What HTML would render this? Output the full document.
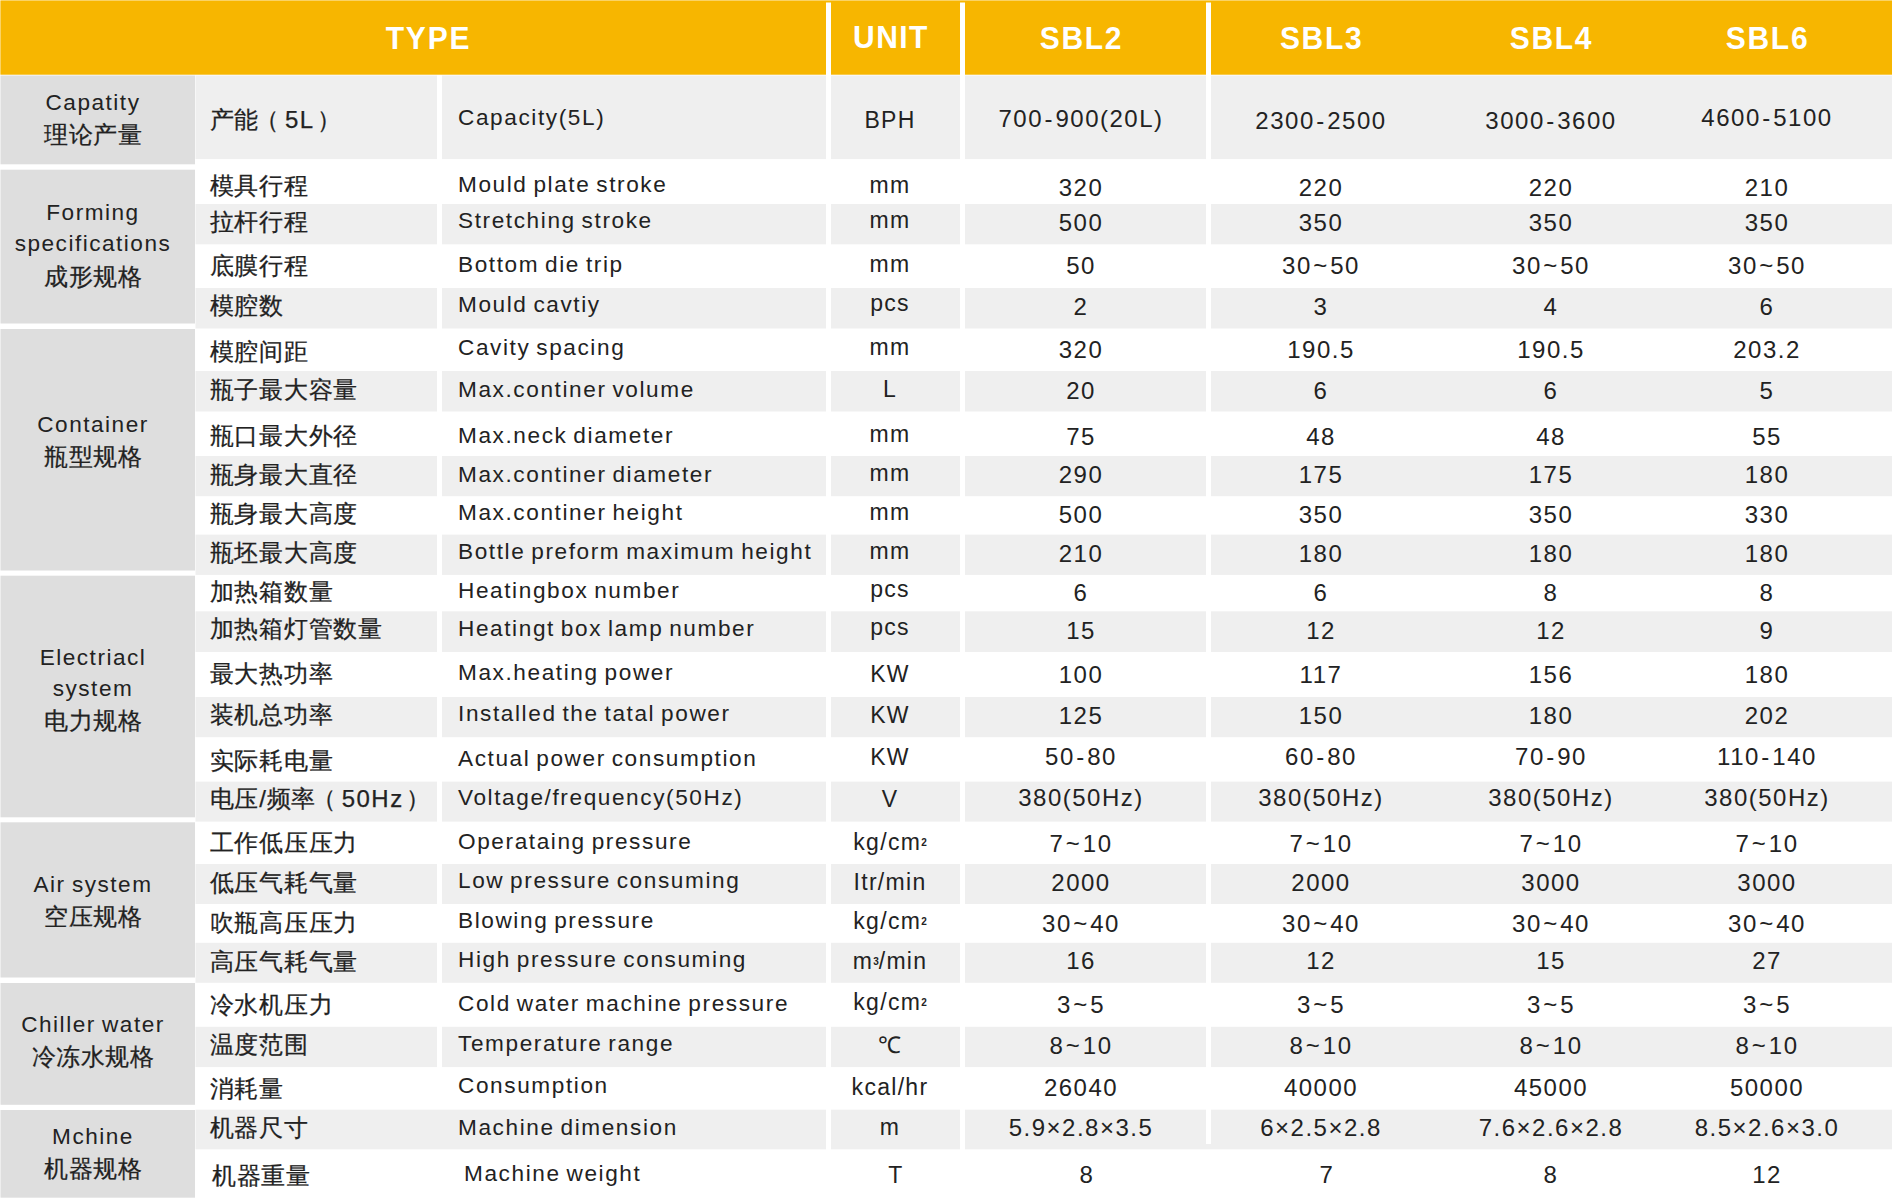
<!DOCTYPE html>
<html lang="zh"><head><meta charset="utf-8"><title>SBL specification table</title>
<style>
html,body{margin:0;padding:0;background:#fff;}
body{width:1892px;height:1202px;position:relative;overflow:hidden;font-family:"Liberation Sans",sans-serif;color:#222;}
.b{position:absolute;}
.t{position:absolute;white-space:nowrap;line-height:30px;height:30px;}
.en{font-size:22.6px;letter-spacing:1.6px;word-spacing:-2px;}
.cn{font-size:24px;letter-spacing:0.7px;-webkit-text-stroke:0.25px;}
.un{font-size:23px;letter-spacing:1.3px;text-align:center;width:130px;}
.va{font-size:24px;letter-spacing:1.5px;text-align:center;width:240px;}
.ce{font-size:22.6px;letter-spacing:1.5px;word-spacing:-1.5px;text-align:center;width:196px;left:-5px;}
.cc{font-size:24px;letter-spacing:0.5px;-webkit-text-stroke:0.25px;text-align:center;width:196px;left:-5px;}
.hd{position:absolute;color:#fff;font-weight:bold;font-size:30px;letter-spacing:1.45px;line-height:40px;height:40px;transform:scaleY(1.06);transform-origin:50% 19.5px;text-align:center;white-space:nowrap;}
.s{padding:0 1.5px;}
.pl{margin:0 5px 0 -4px;}
.pr{margin-left:2.5px;}
.lt{letter-spacing:1.5px;}
sup{font-size:10px;line-height:0;vertical-align:4.5px;letter-spacing:0;font-weight:bold;}
</style></head><body>

<svg class="b" style="left:0;top:0" width="1892" height="1202" viewBox="0 0 1892 1202">
<rect x="0.4" y="0.4" width="1892.6" height="74.3" fill="#f7b600"/>
<rect x="826" y="2.5" width="5" height="73.5" fill="#fff"/>
<rect x="960" y="2.5" width="5" height="73.5" fill="#fff"/>
<rect x="1206" y="2.5" width="5" height="73.5" fill="#fff"/>
<rect x="0.5" y="75.5" width="194.5" height="88.8" fill="#dedede"/>
<rect x="0.5" y="169.7" width="194.5" height="153.8" fill="#dedede"/>
<rect x="0.5" y="329" width="194.5" height="241.5" fill="#dedede"/>
<rect x="0.5" y="575.7" width="194.5" height="241.6" fill="#dedede"/>
<rect x="0.5" y="822.3" width="194.5" height="155.2" fill="#dedede"/>
<rect x="0.5" y="983" width="194.5" height="121.8" fill="#dedede"/>
<rect x="0.5" y="1110" width="194.5" height="87.7" fill="#dedede"/>
<rect x="195.5" y="75.5" width="241.5" height="83.6" fill="#efefef"/>
<rect x="442" y="75.5" width="384" height="83.6" fill="#efefef"/>
<rect x="831" y="75.5" width="129" height="83.6" fill="#efefef"/>
<rect x="965" y="75.5" width="241" height="83.6" fill="#efefef"/>
<rect x="1211" y="75.5" width="681" height="83.6" fill="#efefef"/>
<rect x="195.5" y="204" width="241.5" height="40.3" fill="#efefef"/>
<rect x="442" y="204" width="384" height="40.3" fill="#efefef"/>
<rect x="831" y="204" width="129" height="40.3" fill="#efefef"/>
<rect x="965" y="204" width="241" height="40.3" fill="#efefef"/>
<rect x="1211" y="204" width="681" height="40.3" fill="#efefef"/>
<rect x="195.5" y="288" width="241.5" height="40.5" fill="#efefef"/>
<rect x="442" y="288" width="384" height="40.5" fill="#efefef"/>
<rect x="831" y="288" width="129" height="40.5" fill="#efefef"/>
<rect x="965" y="288" width="241" height="40.5" fill="#efefef"/>
<rect x="1211" y="288" width="681" height="40.5" fill="#efefef"/>
<rect x="195.5" y="371" width="241.5" height="40.5" fill="#efefef"/>
<rect x="442" y="371" width="384" height="40.5" fill="#efefef"/>
<rect x="831" y="371" width="129" height="40.5" fill="#efefef"/>
<rect x="965" y="371" width="241" height="40.5" fill="#efefef"/>
<rect x="1211" y="371" width="681" height="40.5" fill="#efefef"/>
<rect x="195.5" y="456" width="241.5" height="40.2" fill="#efefef"/>
<rect x="442" y="456" width="384" height="40.2" fill="#efefef"/>
<rect x="831" y="456" width="129" height="40.2" fill="#efefef"/>
<rect x="965" y="456" width="241" height="40.2" fill="#efefef"/>
<rect x="1211" y="456" width="681" height="40.2" fill="#efefef"/>
<rect x="195.5" y="534.6" width="241.5" height="40.3" fill="#efefef"/>
<rect x="442" y="534.6" width="384" height="40.3" fill="#efefef"/>
<rect x="831" y="534.6" width="129" height="40.3" fill="#efefef"/>
<rect x="965" y="534.6" width="241" height="40.3" fill="#efefef"/>
<rect x="1211" y="534.6" width="681" height="40.3" fill="#efefef"/>
<rect x="195.5" y="611.3" width="241.5" height="40.7" fill="#efefef"/>
<rect x="442" y="611.3" width="384" height="40.7" fill="#efefef"/>
<rect x="831" y="611.3" width="129" height="40.7" fill="#efefef"/>
<rect x="965" y="611.3" width="241" height="40.7" fill="#efefef"/>
<rect x="1211" y="611.3" width="681" height="40.7" fill="#efefef"/>
<rect x="195.5" y="697" width="241.5" height="40.2" fill="#efefef"/>
<rect x="442" y="697" width="384" height="40.2" fill="#efefef"/>
<rect x="831" y="697" width="129" height="40.2" fill="#efefef"/>
<rect x="965" y="697" width="241" height="40.2" fill="#efefef"/>
<rect x="1211" y="697" width="681" height="40.2" fill="#efefef"/>
<rect x="195.5" y="781.6" width="241.5" height="40" fill="#efefef"/>
<rect x="442" y="781.6" width="384" height="40" fill="#efefef"/>
<rect x="831" y="781.6" width="129" height="40" fill="#efefef"/>
<rect x="965" y="781.6" width="241" height="40" fill="#efefef"/>
<rect x="1211" y="781.6" width="681" height="40" fill="#efefef"/>
<rect x="195.5" y="864" width="241.5" height="40" fill="#efefef"/>
<rect x="442" y="864" width="384" height="40" fill="#efefef"/>
<rect x="831" y="864" width="129" height="40" fill="#efefef"/>
<rect x="965" y="864" width="241" height="40" fill="#efefef"/>
<rect x="1211" y="864" width="681" height="40" fill="#efefef"/>
<rect x="195.5" y="942.8" width="241.5" height="40" fill="#efefef"/>
<rect x="442" y="942.8" width="384" height="40" fill="#efefef"/>
<rect x="831" y="942.8" width="129" height="40" fill="#efefef"/>
<rect x="965" y="942.8" width="241" height="40" fill="#efefef"/>
<rect x="1211" y="942.8" width="681" height="40" fill="#efefef"/>
<rect x="195.5" y="1026.8" width="241.5" height="40.3" fill="#efefef"/>
<rect x="442" y="1026.8" width="384" height="40.3" fill="#efefef"/>
<rect x="831" y="1026.8" width="129" height="40.3" fill="#efefef"/>
<rect x="965" y="1026.8" width="241" height="40.3" fill="#efefef"/>
<rect x="1211" y="1026.8" width="681" height="40.3" fill="#efefef"/>
<rect x="195.5" y="1109.7" width="630.5" height="39.6" fill="#efefef"/>
<rect x="831" y="1109.7" width="129" height="39.6" fill="#efefef"/>
<rect x="965" y="1109.7" width="241" height="39.6" fill="#efefef"/>
<rect x="1211" y="1109.7" width="681" height="39.6" fill="#efefef"/>
<rect x="1206" y="1144" width="5" height="5.3" fill="#efefef"/>
</svg>
<div class="hd" style="left:278.5px;top:17.8px;width:300px;letter-spacing:1.8px">TYPE</div>
<div class="hd" style="left:740.925px;top:17.4px;width:300px;letter-spacing:1.45px">UNIT</div>
<div class="hd" style="left:931.45px;top:18px;width:300px;letter-spacing:1.7px">SBL2</div>
<div class="hd" style="left:1171.65px;top:18px;width:300px;letter-spacing:1.7px">SBL3</div>
<div class="hd" style="left:1401.45px;top:18px;width:300px;letter-spacing:1.7px">SBL4</div>
<div class="hd" style="left:1617.55px;top:18px;width:300px;letter-spacing:1.7px">SBL6</div>
<div class="t ce" style="top:88.2px">Capatity</div>
<div class="t cc" style="top:120px">理论产量</div>
<div class="t ce" style="top:198.2px">Forming</div>
<div class="t ce" style="top:229.2px">specifications</div>
<div class="t cc" style="top:262px">成形规格</div>
<div class="t ce" style="top:410.2px">Container</div>
<div class="t cc" style="top:442px">瓶型规格</div>
<div class="t ce" style="top:643.2px">Electriacl</div>
<div class="t ce" style="top:674.2px">system</div>
<div class="t cc" style="top:706px">电力规格</div>
<div class="t ce" style="top:870.2px">Air system</div>
<div class="t cc" style="top:902px">空压规格</div>
<div class="t ce" style="top:1010.2px">Chiller water</div>
<div class="t cc" style="top:1042px">冷冻水规格</div>
<div class="t ce" style="top:1122.2px">Mchine</div>
<div class="t cc" style="top:1154px">机器规格</div>
<div class="t cn" style="left:209.8px;top:105px">产能<span class="pl">（</span><span class="lt">5L</span><span class="pr">）</span></div>
<div class="t en" style="left:458px;top:103px">Capacity(5L)</div>
<div class="t un" style="left:825px;top:105px">BPH</div>
<div class="t va" style="left:961px;top:104px">700<span class="s">-</span>900(20L)</div>
<div class="t va" style="left:1201px;top:105.5px">2300<span class="s">-</span>2500</div>
<div class="t va" style="left:1431px;top:105.5px">3000<span class="s">-</span>3600</div>
<div class="t va" style="left:1647px;top:103px">4600<span class="s">-</span>5100</div>
<div class="t cn" style="left:209.8px;top:171px">模具行程</div>
<div class="t en" style="left:458px;top:170px">Mould plate stroke</div>
<div class="t un" style="left:825px;top:170px">mm</div>
<div class="t va" style="left:961px;top:172.5px">320</div>
<div class="t va" style="left:1201px;top:172.5px">220</div>
<div class="t va" style="left:1431px;top:172.5px">220</div>
<div class="t va" style="left:1647px;top:172.5px">210</div>
<div class="t cn" style="left:209.8px;top:207px">拉杆行程</div>
<div class="t en" style="left:458px;top:206px">Stretching stroke</div>
<div class="t un" style="left:825px;top:205px">mm</div>
<div class="t va" style="left:961px;top:208px">500</div>
<div class="t va" style="left:1201px;top:208px">350</div>
<div class="t va" style="left:1431px;top:208px">350</div>
<div class="t va" style="left:1647px;top:208px">350</div>
<div class="t cn" style="left:209.8px;top:251px">底膜行程</div>
<div class="t en" style="left:458px;top:249.6px">Bottom die trip</div>
<div class="t un" style="left:825px;top:249px">mm</div>
<div class="t va" style="left:961px;top:251px">50</div>
<div class="t va" style="left:1201px;top:251px">30<span class="s">~</span>50</div>
<div class="t va" style="left:1431px;top:251px">30<span class="s">~</span>50</div>
<div class="t va" style="left:1647px;top:251px">30<span class="s">~</span>50</div>
<div class="t cn" style="left:209.8px;top:291px">模腔数</div>
<div class="t en" style="left:458px;top:289.6px">Mould cavtiy</div>
<div class="t un" style="left:825px;top:288px">pcs</div>
<div class="t va" style="left:961px;top:292px">2</div>
<div class="t va" style="left:1201px;top:292px">3</div>
<div class="t va" style="left:1431px;top:292px">4</div>
<div class="t va" style="left:1647px;top:292px">6</div>
<div class="t cn" style="left:209.8px;top:337px">模腔间距</div>
<div class="t en" style="left:458px;top:333px">Cavity spacing</div>
<div class="t un" style="left:825px;top:332px">mm</div>
<div class="t va" style="left:961px;top:335px">320</div>
<div class="t va" style="left:1201px;top:335px">190.5</div>
<div class="t va" style="left:1431px;top:335px">190.5</div>
<div class="t va" style="left:1647px;top:335px">203.2</div>
<div class="t cn" style="left:209.8px;top:375px">瓶子最大容量</div>
<div class="t en" style="left:458px;top:375px">Max.continer volume</div>
<div class="t un" style="left:825px;top:374px">L</div>
<div class="t va" style="left:961px;top:375.5px">20</div>
<div class="t va" style="left:1201px;top:375.5px">6</div>
<div class="t va" style="left:1431px;top:375.5px">6</div>
<div class="t va" style="left:1647px;top:375.5px">5</div>
<div class="t cn" style="left:209.8px;top:421px">瓶口最大外径</div>
<div class="t en" style="left:458px;top:421px">Max.neck diameter</div>
<div class="t un" style="left:825px;top:419px">mm</div>
<div class="t va" style="left:961px;top:422px">75</div>
<div class="t va" style="left:1201px;top:422px">48</div>
<div class="t va" style="left:1431px;top:422px">48</div>
<div class="t va" style="left:1647px;top:422px">55</div>
<div class="t cn" style="left:209.8px;top:460px">瓶身最大直径</div>
<div class="t en" style="left:458px;top:460px">Max.continer diameter</div>
<div class="t un" style="left:825px;top:458px">mm</div>
<div class="t va" style="left:961px;top:460px">290</div>
<div class="t va" style="left:1201px;top:460px">175</div>
<div class="t va" style="left:1431px;top:460px">175</div>
<div class="t va" style="left:1647px;top:460px">180</div>
<div class="t cn" style="left:209.8px;top:499px">瓶身最大高度</div>
<div class="t en" style="left:458px;top:498px">Max.continer height</div>
<div class="t un" style="left:825px;top:497px">mm</div>
<div class="t va" style="left:961px;top:499.7px">500</div>
<div class="t va" style="left:1201px;top:499.7px">350</div>
<div class="t va" style="left:1431px;top:499.7px">350</div>
<div class="t va" style="left:1647px;top:499.7px">330</div>
<div class="t cn" style="left:209.8px;top:538px">瓶坯最大高度</div>
<div class="t en" style="left:458px;top:537px">Bottle preform maximum height</div>
<div class="t un" style="left:825px;top:536px">mm</div>
<div class="t va" style="left:961px;top:539px">210</div>
<div class="t va" style="left:1201px;top:539px">180</div>
<div class="t va" style="left:1431px;top:539px">180</div>
<div class="t va" style="left:1647px;top:539px">180</div>
<div class="t cn" style="left:209.8px;top:577px">加热箱数量</div>
<div class="t en" style="left:458px;top:575.5px">Heatingbox number</div>
<div class="t un" style="left:825px;top:574px">pcs</div>
<div class="t va" style="left:961px;top:578px">6</div>
<div class="t va" style="left:1201px;top:578px">6</div>
<div class="t va" style="left:1431px;top:578px">8</div>
<div class="t va" style="left:1647px;top:578px">8</div>
<div class="t cn" style="left:209.8px;top:614px">加热箱灯管数量</div>
<div class="t en" style="left:458px;top:614px">Heatingt box lamp number</div>
<div class="t un" style="left:825px;top:612px">pcs</div>
<div class="t va" style="left:961px;top:615.7px">15</div>
<div class="t va" style="left:1201px;top:615.7px">12</div>
<div class="t va" style="left:1431px;top:615.7px">12</div>
<div class="t va" style="left:1647px;top:615.7px">9</div>
<div class="t cn" style="left:209.8px;top:659px">最大热功率</div>
<div class="t en" style="left:458px;top:658px">Max.heating power</div>
<div class="t un" style="left:825px;top:659px">KW</div>
<div class="t va" style="left:961px;top:660px">100</div>
<div class="t va" style="left:1201px;top:660px">117</div>
<div class="t va" style="left:1431px;top:660px">156</div>
<div class="t va" style="left:1647px;top:660px">180</div>
<div class="t cn" style="left:209.8px;top:700px">装机总功率</div>
<div class="t en" style="left:458px;top:698.8px">Installed the tatal power</div>
<div class="t un" style="left:825px;top:700px">KW</div>
<div class="t va" style="left:961px;top:700.7px">125</div>
<div class="t va" style="left:1201px;top:700.7px">150</div>
<div class="t va" style="left:1431px;top:700.7px">180</div>
<div class="t va" style="left:1647px;top:700.7px">202</div>
<div class="t cn" style="left:209.8px;top:746px">实际耗电量</div>
<div class="t en" style="left:458px;top:743.8px">Actual power consumption</div>
<div class="t un" style="left:825px;top:742px">KW</div>
<div class="t va" style="left:961px;top:742px">50<span class="s">-</span>80</div>
<div class="t va" style="left:1201px;top:742px">60<span class="s">-</span>80</div>
<div class="t va" style="left:1431px;top:742px">70<span class="s">-</span>90</div>
<div class="t va" style="left:1647px;top:742px">110<span class="s">-</span>140</div>
<div class="t cn" style="left:209.8px;top:784px">电压/频率<span class="pl">（</span><span class="lt">50Hz</span><span class="pr">）</span></div>
<div class="t en" style="left:458px;top:783px">Voltage/frequency(50Hz)</div>
<div class="t un" style="left:825px;top:784px">V</div>
<div class="t va" style="left:961px;top:783px">380(50Hz)</div>
<div class="t va" style="left:1201px;top:783px">380(50Hz)</div>
<div class="t va" style="left:1431px;top:783px">380(50Hz)</div>
<div class="t va" style="left:1647px;top:783px">380(50Hz)</div>
<div class="t cn" style="left:209.8px;top:828px">工作低压压力</div>
<div class="t en" style="left:458px;top:827px">Operataing pressure</div>
<div class="t un" style="left:825px;top:827px">kg/cm<sup>2</sup></div>
<div class="t va" style="left:961px;top:829px">7<span class="s">~</span>10</div>
<div class="t va" style="left:1201px;top:829px">7<span class="s">~</span>10</div>
<div class="t va" style="left:1431px;top:829px">7<span class="s">~</span>10</div>
<div class="t va" style="left:1647px;top:829px">7<span class="s">~</span>10</div>
<div class="t cn" style="left:209.8px;top:867.5px">低压气耗气量</div>
<div class="t en" style="left:458px;top:866px">Low pressure consuming</div>
<div class="t un" style="left:825px;top:867px">Itr/min</div>
<div class="t va" style="left:961px;top:867.7px">2000</div>
<div class="t va" style="left:1201px;top:867.7px">2000</div>
<div class="t va" style="left:1431px;top:867.7px">3000</div>
<div class="t va" style="left:1647px;top:867.7px">3000</div>
<div class="t cn" style="left:209.8px;top:908px">吹瓶高压压力</div>
<div class="t en" style="left:458px;top:906px">Blowing pressure</div>
<div class="t un" style="left:825px;top:906px">kg/cm<sup>2</sup></div>
<div class="t va" style="left:961px;top:908.5px">30<span class="s">~</span>40</div>
<div class="t va" style="left:1201px;top:908.5px">30<span class="s">~</span>40</div>
<div class="t va" style="left:1431px;top:908.5px">30<span class="s">~</span>40</div>
<div class="t va" style="left:1647px;top:908.5px">30<span class="s">~</span>40</div>
<div class="t cn" style="left:209.8px;top:946.5px">高压气耗气量</div>
<div class="t en" style="left:458px;top:945px">High pressure consuming</div>
<div class="t un" style="left:825px;top:946px">m<sup>3</sup>/min</div>
<div class="t va" style="left:961px;top:946px">16</div>
<div class="t va" style="left:1201px;top:946px">12</div>
<div class="t va" style="left:1431px;top:946px">15</div>
<div class="t va" style="left:1647px;top:946px">27</div>
<div class="t cn" style="left:209.8px;top:990px">冷水机压力</div>
<div class="t en" style="left:458px;top:989px">Cold water machine pressure</div>
<div class="t un" style="left:825px;top:987px">kg/cm<sup>2</sup></div>
<div class="t va" style="left:961px;top:989.7px">3<span class="s">~</span>5</div>
<div class="t va" style="left:1201px;top:989.7px">3<span class="s">~</span>5</div>
<div class="t va" style="left:1431px;top:989.7px">3<span class="s">~</span>5</div>
<div class="t va" style="left:1647px;top:989.7px">3<span class="s">~</span>5</div>
<div class="t cn" style="left:209.8px;top:1030px">温度范围</div>
<div class="t en" style="left:458px;top:1029px">Temperature range</div>
<div class="t un" style="left:825px;top:1030px">℃</div>
<div class="t va" style="left:961px;top:1031px">8<span class="s">~</span>10</div>
<div class="t va" style="left:1201px;top:1031px">8<span class="s">~</span>10</div>
<div class="t va" style="left:1431px;top:1031px">8<span class="s">~</span>10</div>
<div class="t va" style="left:1647px;top:1031px">8<span class="s">~</span>10</div>
<div class="t cn" style="left:209.8px;top:1073.5px">消耗量</div>
<div class="t en" style="left:458px;top:1071px">Consumption</div>
<div class="t un" style="left:825px;top:1072px">kcal/hr</div>
<div class="t va" style="left:961px;top:1072.7px">26040</div>
<div class="t va" style="left:1201px;top:1072.7px">40000</div>
<div class="t va" style="left:1431px;top:1072.7px">45000</div>
<div class="t va" style="left:1647px;top:1072.7px">50000</div>
<div class="t cn" style="left:209.8px;top:1113px">机器尺寸</div>
<div class="t en" style="left:458px;top:1113px">Machine dimension</div>
<div class="t un" style="left:825px;top:1112px">m</div>
<div class="t va" style="left:961px;top:1113px">5.9×2.8×3.5</div>
<div class="t va" style="left:1201px;top:1113px">6×2.5×2.8</div>
<div class="t va" style="left:1431px;top:1113px">7.6×2.6×2.8</div>
<div class="t va" style="left:1647px;top:1113px">8.5×2.6×3.0</div>
<div class="t cn" style="left:212px;top:1161px">机器重量</div>
<div class="t en" style="left:464px;top:1159px">Machine weight</div>
<div class="t un" style="left:831px;top:1160px">T</div>
<div class="t va" style="left:967px;top:1160px">8</div>
<div class="t va" style="left:1207px;top:1160px">7</div>
<div class="t va" style="left:1431px;top:1160px">8</div>
<div class="t va" style="left:1647px;top:1160px">12</div>
</body></html>
